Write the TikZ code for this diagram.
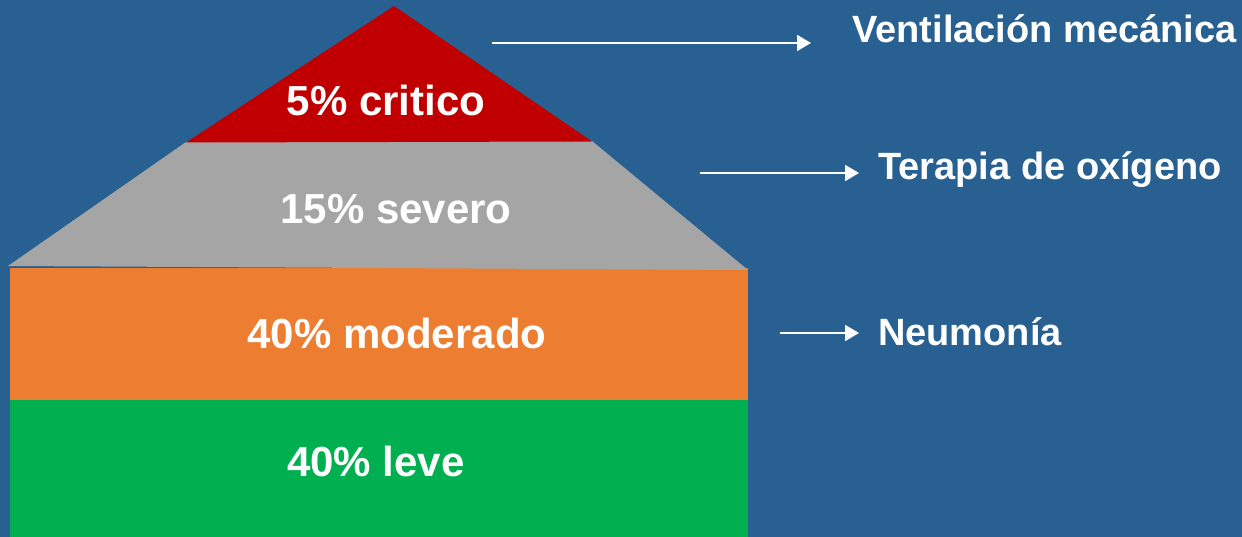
\documentclass[tikz,border=0pt]{standalone}
\usepackage{fontspec}
\setmainfont{Liberation Sans}
\usetikzlibrary{arrows.meta, positioning}
\definecolor{fondo}{RGB}{39,96,145}
\definecolor{critico}{RGB}{192,0,0}
\definecolor{severo}{RGB}{165,165,165}
\definecolor{moderado}{RGB}{237,125,49}
\definecolor{leve}{RGB}{0,176,80}

\begin{document}
\begin{tikzpicture}
  [
    x=1pt, y=-1pt,
    nivel/.style={text=white, inner sep=0pt, anchor=base,
      font=\bfseries\fontsize{42}{48}\selectfont},
    accion/.style={text=white, inner sep=0pt, anchor=base west,
      font=\bfseries\fontsize{38}{44}\selectfont},
    flecha/.style={draw=white, line width=2pt,
      -{Triangle[length=14pt,width=16pt]}}
  ]
  \fill[fondo] (0,0) rectangle (1242,537);
  \useasboundingbox (0,0) rectangle (1242,537);

  \fill[leve] (10,399) rectangle (748,537);
  \fill[moderado] (10,268) rectangle (748,399.5);
  \fill[severo] (186,142) -- (592,141) -- (748,270) -- (8,266) -- cycle;
  \fill[critico] (394,6) -- (592,141.5) -- (186,142.5) -- cycle;

  \node[nivel] (critico) at (386,116) {5\% critico};
  \node[nivel] (severo) at (396,224) {15\% severo};
  \node[nivel] (moderado) at (397,348) {40\% moderado};
  \node[nivel] (leve) at (376,476) {40\% leve};

  \node[accion] (ventilacion) at (852,43) {Ventilación mecánica};
  \node[accion] (terapia) at (878,180) {Terapia de oxígeno};
  \node[accion] (neumonia) at (878,345) {Neumonía};

  \coordinate (v0) at (492,43);
  \coordinate (v1) at (811,43);
  \coordinate (t0) at (700,173);
  \coordinate (t1) at (859,173);
  \coordinate (n0) at (780,333);
  \coordinate (n1) at (859,333);

  \draw[flecha] (v0) -- (v1);
  \draw[flecha] (t0) -- (t1);
  \draw[flecha] (n0) -- (n1);
\end{tikzpicture}
\end{document}
